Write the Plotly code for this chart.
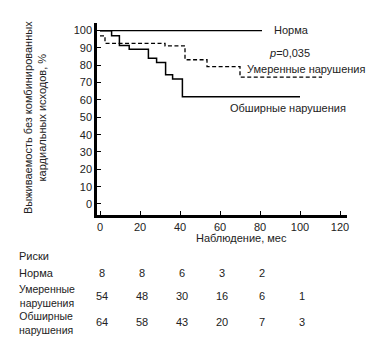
import plotly.graph_objects as go

# Kaplan-Meier step data: time (months) and event-free survival (%)
norm_t = [0, 81]
norm_s = [100, 100]

mod_t = [0, 2.5, 32.5, 42.5, 53.5, 70, 111]
mod_s = [97, 92.7, 91.2, 83.2, 79.2, 73.2, 73.2]

ext_t = [0, 5.8, 9.7, 14.6, 24.2, 28.3, 32.8, 36.3, 41.2, 100]
ext_s = [100, 97.1, 91.4, 89.2, 84.1, 81.6, 74.5, 72.1, 61.8, 61.8]

# Numbers at risk
risk_times = [0, 20, 40, 60, 80, 100]
risk_norm = [8, 8, 6, 3, 2]
risk_mod = [54, 48, 30, 16, 6, 1]
risk_ext = [64, 58, 43, 20, 7, 3]

x_ticks = [0, 20, 40, 60, 80, 100, 120]
y_ticks = [0, 10, 20, 30, 40, 50, 60, 70, 80, 90, 100]

FONT = "Liberation Sans, Arial, sans-serif"
INK = "#222222"

fig = go.Figure()
fig.add_trace(go.Scatter(x=norm_t, y=norm_s, mode="lines", line_shape="hv",
                         line=dict(color="black", width=1.3), showlegend=False))
fig.add_trace(go.Scatter(x=mod_t, y=mod_s, mode="lines", line_shape="hv",
                         line=dict(color="black", width=1.3, dash="4px,2.5px"),
                         showlegend=False))
fig.add_trace(go.Scatter(x=ext_t, y=ext_s, mode="lines", line_shape="hv",
                         line=dict(color="black", width=1.5), showlegend=False))

# plot area in pixels: left 97, right 347, top 23, bottom 215
L, R, T, B = 97, 347, 23, 215
H = B - T


def py(pix):
    return (B - pix) / H


def px(pix):
    return (pix - L) / (R - L)


ann = []


def text(x, y, s, xref="paper", yref="paper", xanchor="left", size=11, **kw):
    ann.append(dict(x=x, y=y, xref=xref, yref=yref, text=s, showarrow=False,
                    xanchor=xanchor, yanchor="middle",
                    font=dict(family=FONT, size=size, color=INK), **kw))


# curve labels
text(86, 100.4, "Норма", xref="x", yref="y")
text(94.5, 87.1, "<i>p</i>=0,035", xref="x", yref="y", xanchor="center")
text(72.5, 77.9, "Умеренные нарушения", xref="x", yref="y")
text(64, 55.4, "Обширные нарушения", xref="x", yref="y")

# axis titles
text(70.5, py(238), "Наблюдение, мес", xref="x", xanchor="center")
ann.append(dict(x=px(35), y=py(118), xref="paper", yref="paper",
                text="Выживаемость без комбинированных<br>кардиальных исходов, %",
                showarrow=False, textangle=-90, xanchor="center", yanchor="middle",
                font=dict(family=FONT, size=11, color=INK)))

# risk table
lx = px(17)
text(lx, py(256), "Риски")
text(lx, py(273), "Норма")
text(lx, py(296), "Умеренные<br>нарушения", size=10.5)
text(lx, py(322.5), "Обширные<br>нарушения", size=10.5)
for row, ypix in ((risk_norm, 273), (risk_mod, 295.5), (risk_ext, 321.5)):
    for t, v in zip(risk_times, row):
        text(t, py(ypix), str(v), xref="x", xanchor="center", xshift=2)

fig.update_layout(
    width=372, height=346,
    margin=dict(l=L, r=372 - R, t=T, b=346 - B),
    paper_bgcolor="white", plot_bgcolor="white",
    font=dict(family=FONT, size=11, color=INK),
    annotations=ann,
    xaxis=dict(range=[-1.5, 123.5], tickvals=x_ticks, ticks="inside", ticklen=4,
               tickwidth=1, tickcolor="black", showline=True, linecolor="black",
               linewidth=2.5, showgrid=False, zeroline=False,
               tickfont=dict(family=FONT, size=11, color=INK)),
    yaxis=dict(range=[-6.35, 104.4], tickvals=y_ticks, ticks="inside", ticklen=4,
               tickwidth=1, tickcolor="black", showline=True, linecolor="black",
               linewidth=2.5, showgrid=False, zeroline=False,
               tickfont=dict(family=FONT, size=11, color=INK)),
)

fig.write_html("out.html")
